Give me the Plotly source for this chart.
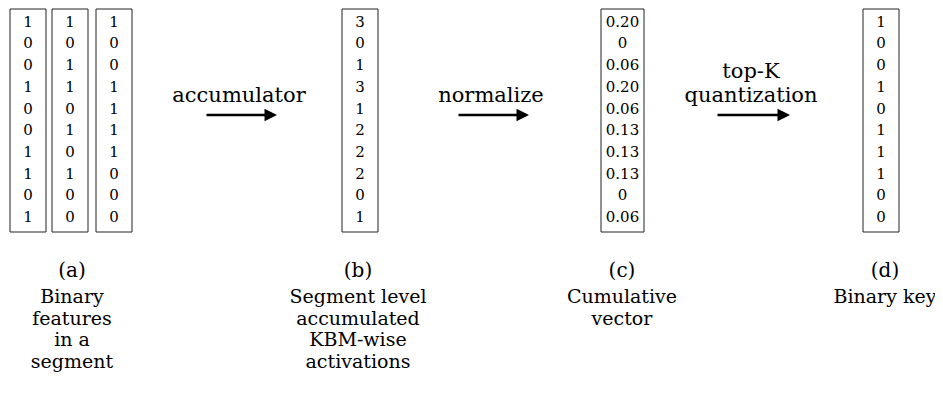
import plotly.graph_objects as go

# values shown in the boxes
features_a = [
    [1, 0, 0, 1, 0, 0, 1, 1, 0, 1],
    [1, 0, 1, 1, 0, 1, 0, 1, 0, 0],
    [1, 0, 0, 1, 1, 1, 1, 0, 0, 0],
]
accumulated = [3, 0, 1, 3, 1, 2, 2, 2, 0, 1]
cumulative = ["0.20", "0", "0.06", "0.20", "0.06", "0.13", "0.13", "0.13", "0", "0.06"]
binary_key = [1, 0, 0, 1, 0, 1, 1, 1, 0, 0]

step_labels = ["(a)", "(b)", "(c)", "(d)"]
descriptions = [
    ["Binary", "features", "in a", "segment"],
    ["Segment level", "accumulated", "KBM-wise", "activations"],
    ["Cumulative", "vector"],
    ["Binary key"],
]
operations = [["accumulator"], ["normalize"], ["top-K", "quantization"]]

FONT = "DejaVu Serif"
W, H = 943, 403
OFF = 8  # page body margin

# layout of the columns (pixel space)
box_top, box_bottom = 9, 232
row_first, row_step = 23, 21.7
box_cols = [(28, 36), (70, 36), (114, 36), (360, 36), (622.5, 43), (881, 36)]
label_x = [72, 358, 622, 885]
label_y = 272
desc_y, desc_step = 298, 21.8
arrows = [(205, 277), (457, 529), (716, 790)]
arrow_y = 115
op_y_bottom, op_step = 97, 24

fig = go.Figure()

columns = features_a + [accumulated, cumulative, binary_key]
shapes = []
for (cx, w), vals in zip(box_cols, columns):
    shapes.append(dict(type="rect", x0=cx - w / 2, x1=cx + w / 2, y0=box_top, y1=box_bottom,
                       line=dict(color="#222", width=1)))
    fig.add_trace(go.Scatter(
        x=[cx] * len(vals),
        y=[row_first + i * row_step for i in range(len(vals))],
        mode="text", text=[str(v) for v in vals],
        textfont=dict(family=FONT, size=15, color="black"),
        hoverinfo="skip", showlegend=False, cliponaxis=False,
    ))

# (a) (b) (c) (d)
fig.add_trace(go.Scatter(
    x=label_x, y=[label_y] * len(step_labels), mode="text", text=step_labels,
    textfont=dict(family=FONT, size=20, color="black"),
    hoverinfo="skip", showlegend=False, cliponaxis=False,
))

# descriptions under each step
for cx, lines in zip(label_x, descriptions):
    fig.add_trace(go.Scatter(
        x=[cx] * len(lines), y=[desc_y + k * desc_step for k in range(len(lines))],
        mode="text", text=lines,
        textfont=dict(family=FONT, size=19, color="black"),
        hoverinfo="skip", showlegend=False, cliponaxis=False,
    ))

# arrows with operation names
annotations = []
for (x0, x1), lines in zip(arrows, operations):
    cx = (x0 + x1) / 2 - 2
    n = len(lines)
    fig.add_trace(go.Scatter(
        x=[cx] * n, y=[op_y_bottom - (n - 1 - k) * op_step for k in range(n)],
        mode="text", text=lines,
        textfont=dict(family=FONT, size=21, color="black"),
        hoverinfo="skip", showlegend=False, cliponaxis=False,
    ))
    annotations.append(dict(x=x1, y=arrow_y, ax=x0, ay=arrow_y, xref="x", yref="y",
                            axref="x", ayref="y", text="", showarrow=True,
                            arrowhead=2, arrowsize=1, arrowwidth=2.5, arrowcolor="black"))

# the page adds an 8px margin, so the figure is drawn a bit smaller and offset
fig.update_layout(
    width=W - OFF, height=H - OFF, margin=dict(l=0, r=0, t=0, b=0),
    paper_bgcolor="white", plot_bgcolor="white",
    xaxis=dict(range=[OFF, W], visible=False, fixedrange=True),
    yaxis=dict(range=[H, OFF], visible=False, fixedrange=True),
    shapes=shapes, annotations=annotations,
)

fig.write_html("out.html")
